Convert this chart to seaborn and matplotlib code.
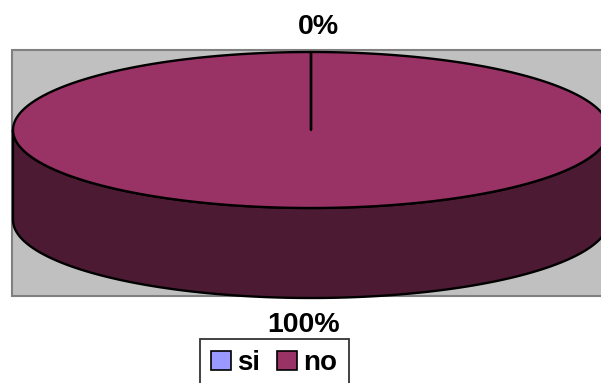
import numpy as np
import matplotlib
matplotlib.use("Agg")
import matplotlib.pyplot as plt
from matplotlib.patches import Polygon, Rectangle, Patch
import seaborn as sns

# Survey answers
labels = ["si", "no"]
values = [0, 100]
top_colors = ["#9999FF", "#993366"]
side_colors = ["#4D4D80", "#4D1A33"]

sns.set_style("white")
plt.rcParams["font.family"] = ["Liberation Sans", "DejaVu Sans"]
plt.rcParams["text.color"] = "black"

W, H = 601, 383
fig = plt.figure(figsize=(W / 100, H / 100), dpi=100)
ax = fig.add_axes([0, 0, 1, 1])
ax.set_xlim(0, W)
ax.set_ylim(H, 0)
ax.axis("off")

# plot area background
ax.add_patch(Rectangle((12, 50), 620, 246, facecolor="#C0C0C0",
                       edgecolor="#808080", lw=1.5, zorder=0))

# 3D pie geometry (pixel units)
cx, cy, rx, ry, depth = 311, 130, 298, 78, 90


def pt(t, dy=0.0):
    return cx + rx * np.sin(t), cy - ry * np.cos(t) + dy


total = float(sum(values))
fracs = np.array(values) / total
starts = np.concatenate([[0], np.cumsum(fracs)[:-1]]) * 2 * np.pi
ends = np.cumsum(fracs) * 2 * np.pi

# side walls (front half only, angles measured clockwise from 12 o'clock)
for a, b, sc in zip(starts, ends, side_colors):
    lo, hi = max(a, np.pi / 2), min(b, 3 * np.pi / 2)
    if hi <= lo:
        continue
    ts = np.linspace(lo, hi, 200)
    xs, ys = pt(ts)
    xb, yb = pt(ts[::-1], depth)
    poly = np.column_stack([np.concatenate([xs, xb]), np.concatenate([ys, yb])])
    ax.add_patch(Polygon(poly, closed=True, facecolor=sc, edgecolor="black",
                         lw=1.7, joinstyle="round", zorder=2))

# top faces
for a, b, tc in zip(starts, ends, top_colors):
    n = max(2, int(400 * (b - a) / (2 * np.pi)) + 2)
    ts = np.linspace(a, b, n)
    xs, ys = pt(ts)
    poly = np.column_stack([np.concatenate([[cx], xs]), np.concatenate([[cy], ys])])
    ax.add_patch(Polygon(poly, closed=True, facecolor=tc, edgecolor="black",
                         lw=1.7, joinstyle="round", zorder=3))

# percentage labels outside each slice
for a, b, v in zip(starts, ends, values):
    m = (a + b) / 2
    x = cx + 7 * np.cos(m)
    if np.cos(m) >= 0:
        y = cy - ry * np.cos(m) - 25
    else:
        y = cy - ry * np.cos(m) + depth + 27
    ax.text(x, y, f"{v / total:.0%}", ha="center", va="center",
            fontsize=20.5, fontweight="bold", color="black", zorder=5)

handles = [Patch(facecolor=c, edgecolor="black", lw=1.2) for c in top_colors]
leg = ax.legend(handles, labels, loc="upper left", bbox_to_anchor=(200, 339),
                bbox_transform=ax.transData, ncol=2, frameon=True,
                fancybox=False, prop={"weight": "bold", "size": 20},
                handlelength=0.7, handleheight=0.7, handletextpad=0.25,
                columnspacing=0.6, borderpad=0.4, borderaxespad=0,
                labelcolor="black")
leg.get_frame().set_edgecolor("black")
leg.get_frame().set_linewidth(1.3)

fig.savefig("out.png", dpi=100)
